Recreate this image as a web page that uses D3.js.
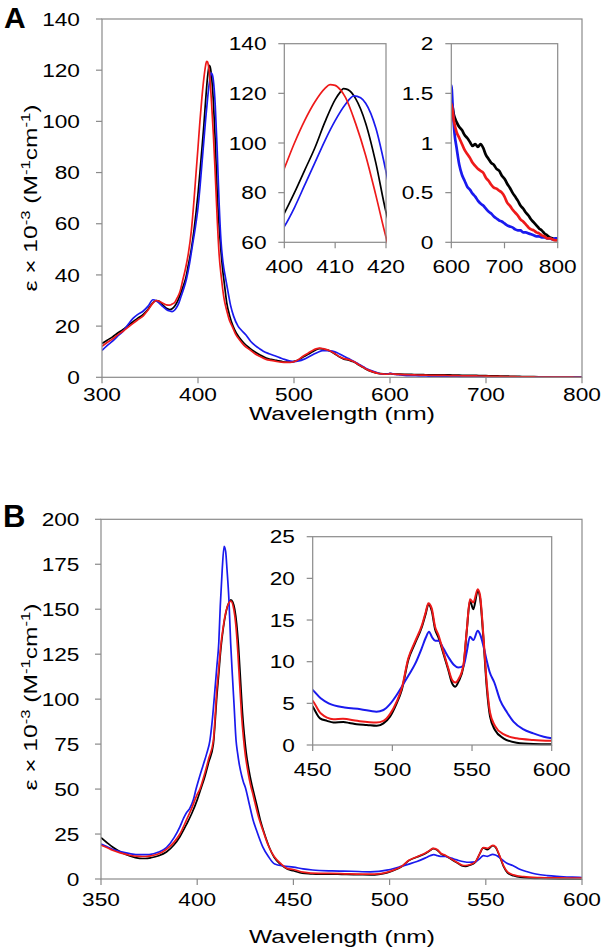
<!DOCTYPE html>
<html><head><meta charset="utf-8">
<script src="https://cdn.jsdelivr.net/npm/d3@7"></script>
<style>body{margin:0;background:#fff}svg{display:block}text{font-family:"Liberation Sans",Arial,sans-serif;fill:#000}</style>
</head><body><svg id="c" width="602" height="951"></svg>
<script>
// ---------------- Panel A data: [wavelength nm, epsilon x 10^-3] ----------------
const aBlack = [[300,13.2],[305,14.4],[311,15.8],[316,17.2],[322,18.7],[327,20.2],[332,21.6],[337,23.0],[343,24.6],[348,26.6],[353,29.2],[356.5,30.0],[360,29.6],[364,28.0],[367,27.0],[370.5,26.5],[373,26.8],[376,28.0],[379,30.0],[381,31.8],[384,35],[387,38.4],[390,44],[393,50],[396,58],[398,64.5],[400,71.7],[402,80],[404,89],[406,98],[408,108.5],[410,117.5],[411,120.5],[411.6,121.9],[412.5,121.5],[414,118],[416,108],[418,92],[420,72.2],[422,59],[424,49],[426,41],[427,38],[430,29],[433,24],[436.5,20],[440,17.2],[443.4,15.4],[448,13.3],[453.8,11.4],[459,10],[464.2,8.8],[471,7.5],[476,7.0],[481.6,6.6],[487,6.2],[492,5.9],[496,5.9],[500,6.2],[505,6.9],[509.4,7.9],[515,9.1],[519.8,10.1],[523,10.8],[526.7,11.2],[530,11.1],[533,10.8],[537.2,10.3],[542,9.3],[547.6,7.9],[552,7.1],[557,6.7],[560,6.3],[563.5,5.8],[567,4.9],[572.2,3.8],[577,2.8],[582.6,2.0],[588,1.5],[593,1.3],[597,1.25],
[600,1.42],[605,1.28],[610,1.21],[615,1.16],[620,1.13],[625,1.08],[630,1.05],[635,1.01],[640,0.97],[645,0.99],[650,0.96],[655,0.99],[660,0.95],[665,0.88],[670,0.84],[675,0.80],[680,0.78],[685,0.74],[690,0.72],[695,0.67],[700,0.64],[705,0.59],[710,0.55],[715,0.50],[720,0.46],[725,0.42],[730,0.37],[735,0.34],[740,0.30],[745,0.27],[750,0.23],[755,0.20],[760,0.17],[765,0.14],[770,0.12],[775,0.09],[780,0.07],[785,0.05],[790,0.04],[795,0.03],[800,0.03]];

const aRed = [[300,12.1],[305,13.5],[311,15.0],[316,16.5],[322,18.0],[327,19.5],[332,21.0],[337,22.4],[343,24.0],[348,26.3],[353,29.0],[356.5,30.0],[360,29.6],[363.5,28.9],[367,28.3],[370.5,28.2],[373,28.6],[375.7,29.2],[378,30.8],[381,33.2],[384.4,38.4],[387,42.5],[390,48.5],[393,57],[396,70],[398,80],[400,89.8],[402,100],[404,109],[406,116.5],[408,122],[409,123.5],[410,123.2],[411,121.5],[412,118.5],[414,108],[416,95],[418,79],[420,62],[422,48],[424.5,38.4],[427,31],[430,26],[433,22],[435.5,20],[439,17],[443.4,14.6],[448,12.5],[453.8,10.8],[459,9.3],[464.2,8.2],[471,7.0],[476,6.6],[481.6,6.2],[487,5.9],[492,5.8],[496,5.8],[500,6.1],[505,7.0],[509.4,8.2],[515,9.5],[519.8,10.6],[523,11.1],[526.7,11.4],[530,11.2],[533,10.9],[537.2,10.4],[542,9.4],[547.6,8.0],[552,7.3],[557,6.9],[560,6.5],[563.5,5.9],[567,5.0],[572.2,3.9],[577,2.9],[582.6,2.1],[588,1.5],[593,1.3],[597,1.2],
[600,1.40],[605,1.22],[610,1.11],[615,1.05],[620,0.99],[625,0.93],[630,0.89],[635,0.85],[640,0.80],[645,0.77],[650,0.74],[655,0.72],[660,0.70],[665,0.65],[670,0.62],[675,0.58],[680,0.55],[685,0.54],[690,0.52],[695,0.50],[700,0.46],[705,0.40],[710,0.37],[715,0.33],[720,0.30],[725,0.27],[730,0.23],[735,0.21],[740,0.18],[745,0.15],[750,0.13],[755,0.12],[760,0.10],[765,0.09],[770,0.07],[775,0.06],[780,0.04],[785,0.04],[790,0.03],[795,0.02],[800,0.02]];

const aBlue = [[300,10.5],[305,12.3],[311,14.1],[316,16.0],[322,18.0],[327,20.5],[332,22.9],[337,24.5],[343,25.9],[348,27.8],[353,30.3],[356.5,29.9],[360,28.8],[363.5,27.6],[367,26.5],[370.5,25.9],[373,25.7],[375.5,26.2],[377.5,27.2],[380,29],[382,31.2],[385,34.5],[388,38.4],[391,44],[394,51],[397,58],[400,66.3],[402,74],[404,83],[406,92],[408,101],[410,109],[412,115.5],[413.7,119],[415,118.2],[416,116],[418,106],[420,88.5],[422,68],[424,53],[426,45],[428.9,38.4],[431,34],[434,28],[437,24],[441.7,20],[445,18.5],[450,16.5],[455,14.0],[460,12.3],[464,11.2],[468,10.2],[474,9.2],[480,8.4],[485,7.7],[490,7.0],[495,6.4],[500,6.1],[505,6.4],[510,7.0],[515,7.9],[520,8.9],[525,9.8],[530,10.4],[535,10.4],[540,10.2],[545,9.6],[547.6,9.1],[552,8.2],[557,7.3],[560,6.7],[563.5,6.0],[567,5.2],[572.2,4.1],[577,3.1],[582.6,2.3],[588,1.6],[593,1.3],[597,1.2],
[600,1.58],[603,1.33],[606,1.10],[610,0.95],[615,0.78],[620,0.68],[625,0.62],[630,0.56],[635,0.53],[640,0.49],[645,0.46],[650,0.42],[655,0.39],[660,0.37],[665,0.34],[670,0.31],[675,0.29],[680,0.26],[685,0.24],[690,0.22],[695,0.21],[700,0.19],[705,0.17],[710,0.16],[715,0.15],[720,0.13],[725,0.12],[730,0.12],[735,0.10],[740,0.10],[745,0.09],[750,0.08],[755,0.07],[760,0.06],[765,0.06],[770,0.05],[775,0.05],[780,0.04],[785,0.04],[790,0.03],[795,0.04],[800,0.04]];

// ---------------- Panel B data ----------------
const bBlack = [[350,23],[353,20.3],[356,17.8],[360,15.2],[365,12.8],[370,11.5],[373,11.4],[376,11.8],[380,12.9],[384,15],[388,19],[391,23.5],[394.5,30.5],[397,36],[400,44],[401.4,48.5],[404,57],[406,65],[408.4,75],[409.3,87],[410.1,100],[411.2,114],[412.2,127],[413.5,139],[415,148.5],[416.5,153.8],[417.5,155.2],[418.5,154],[419.5,150],[420.5,142],[421.5,129],[422.5,111],[423.5,93],[424.5,80],[425.5,70],[426.5,63],[427.5,57],[428.5,52],[429.5,47.5],[431,41],[433,32],[435,25],[437.5,17.5],[440,12],[443.7,7.8],[447,5.4],
[450,4.6],[454.6,3.2],[459,2.9],[463,2.7],[469.2,2.75],[473,2.65],[477.6,2.5],[484,2.4],[490.2,2.3],[494.4,2.6],[498.5,3.4],[502.7,5.0],[505.9,6.6],[510,10.2],[514.2,12.2],[518.4,14.1],[521,15.8],[522.6,16.9],[524.7,16.1],[526.8,13.9],[528.9,12.9],[532,11.0],[535.1,9.0],[537.5,7.4],[539.5,7.0],[541.5,7.6],[544.6,9.4],[546.7,13.7],[548.7,17.3],[550.8,16.3],[553.6,18.5],[555,17.7],[557.1,12.9],[559.2,7.0],[561.3,3.4],[564.4,1.8],[569.7,0.8],[578,0.28],[588.5,0.12],[600,0.08]];

const bRed = [[350,18.8],[353,17.5],[356,16],[360,14.5],[365,13.2],[370,12.6],[373,12.5],[376,12.9],[380,14],[384,16.5],[388,20.5],[391,25],[394.5,33],[397,39],[400,47],[401.4,50],[404,59],[406,67],[408.4,77],[409.3,90],[410.1,104],[411.2,117],[412.2,129],[413.5,140],[415,149],[416.5,153.5],[417.5,154.5],[419,150],[420,142],[421,128],[422,110],[423,92],[424,79],[425,69],[426,62],[427,56],[428,51],[429,47],[430,42.5],[432,34],[434.5,26],[437,18.5],[440,12.5],[443.7,8.3],[447,5.8],
[450,5.3],[455,3.8],[463,3.1],[469,3.15],[478,2.9],[490,2.7],[494.4,2.9],[498.5,3.7],[502.7,5.2],[505.9,6.8],[510,10.4],[514.2,12.4],[518.4,14.3],[521,16.0],[522.6,17.0],[524.7,16.4],[526.8,14.2],[528.9,13.2],[532,11.2],[535.1,9.2],[537.5,7.8],[539.5,7.5],[541.5,7.9],[544.6,9.6],[546.7,13.8],[548.7,17.5],[550.8,17.1],[553.6,18.7],[555,18.0],[557.1,13.2],[559.2,7.5],[561.3,3.9],[564.4,2.3],[569.7,1.3],[578,0.8],[588.5,0.6],[600,0.5]];

const bBlue = [[350,19.5],[353,18],[356,16.5],[360,15.2],[365,14.1],[370,13.5],[375,13.6],[380,15],[384,17.5],[388,23],[391,29],[393,34],[394.5,37],[396,39],[398,44],[399.4,50],[401,56],[403,63],[405,70],[406.6,77],[408,90],[409.2,105],[410.2,118],[411.2,131],[412,152],[413,172],[414,185],[414.8,182],[415.5,172],[416.5,155],[417.4,131],[418.3,113],[419.2,96],[420.2,77],[421,70],[422,63],[423,58],[424,54],[425,51],[427,42],[429,33],[431,26.5],[434,18],[437,12.5],[440.3,8.3],[445,7.2],
[450,6.6],[455,5.6],[460,5.0],[470,4.5],[480,4.3],[490,4.0],[494.4,4.2],[498.5,4.9],[502.7,6.0],[505.9,7.0],[510,8.3],[514.2,9.7],[518.4,11.6],[521,12.9],[523,13.6],[525,12.9],[527,12.5],[529,12.5],[532,11.6],[535,10.6],[538.7,9.6],[541.3,9.3],[544.6,9.5],[546.7,11.2],[548.7,13.0],[550.8,12.6],[553.6,13.7],[555,13.3],[557,12.0],[559,10.3],[561,8.8],[564,7.5],[567.6,5.4],[572,3.9],[576,2.8],[582,1.9],[588.5,1.4],[595,1.0],[600,0.8]];

// ---------------- Tick values ----------------
const aMainXTicks = [300,400,500,600,700,800];
const aMainYTicks = [0,20,40,60,80,100,120,140];
const aIn1XTicks = [400,410,420];
const aIn1YTicks = [60,80,100,120,140];
const aIn2XTicks = [600,700,800];
const aIn2YTicks = [0,0.5,1,1.5,2];
const bMainXTicks = [350,400,450,500,550,600];
const bMainYTicks = [0,25,50,75,100,125,150,175,200];
const bInXTicks = [450,500,550,600];
const bInYTicks = [0,5,10,15,20,25];

const COL = {black:"#000000", red:"#ee1a1a", blue:"#1a1aee"};
const AX = "#8a8a8a";
const FS = 18.6, SX = 1.22, SXT = 1.32;

const svg = d3.select("#c");
svg.append("rect").attr("width",602).attr("height",951).attr("fill","#fff");
let clipN = 0;

function plot(cfg){
  const x = d3.scaleLinear().domain(cfg.xd).range([cfg.x0,cfg.x1]);
  const y = d3.scaleLinear().domain(cfg.yd).range([cfg.y1,cfg.y0]);
  const g = svg.append("g");
  if(cfg.inset) g.append("rect").attr("x",cfg.x0).attr("y",cfg.y0).attr("width",cfg.x1-cfg.x0).attr("height",cfg.y1-cfg.y0).attr("fill","#fff");
  const id = "clip"+(clipN++);
  svg.append("clipPath").attr("id",id).append("rect")
    .attr("x",cfg.x0).attr("y",cfg.y0-1).attr("width",cfg.x1-cfg.x0+1).attr("height",cfg.y1-cfg.y0+2.5);
  const line = d3.line().x(d=>x(d[0])).y(d=>y(d[1])).curve(d3.curveMonotoneX);
  const lg = g.append("g").attr("clip-path",`url(#${id})`);
  cfg.series.forEach(s=>{
    lg.append("path").attr("d",line(s.data)).attr("fill","none")
      .attr("stroke",s.color).attr("stroke-width",cfg.sw).attr("stroke-linejoin","round");
  });
  g.append("rect").attr("x",cfg.x0).attr("y",cfg.y0).attr("width",cfg.x1-cfg.x0).attr("height",cfg.y1-cfg.y0)
    .attr("fill","none").attr("stroke",AX).attr("stroke-width",1.2);
  cfg.xt.forEach(t=>{
    g.append("line").attr("x1",x(t)).attr("x2",x(t)).attr("y1",cfg.y1).attr("y2",cfg.y1+6).attr("stroke",AX).attr("stroke-width",1.2);
    g.append("text").attr("transform",`translate(${x(t)},${cfg.y1+cfg.xoff}) scale(${SX},1)`)
      .attr("text-anchor","middle").attr("font-size",FS).text(t);
  });
  cfg.yt.forEach(t=>{
    g.append("line").attr("x1",cfg.x0-6).attr("x2",cfg.x0).attr("y1",y(t)).attr("y2",y(t)).attr("stroke",AX).attr("stroke-width",1.2);
    g.append("text").attr("transform",`translate(${cfg.x0-cfg.lpad},${y(t)}) scale(${SX},1)`)
      .attr("text-anchor","end").attr("dy","0.36em").attr("font-size",FS).text(t);
  });
  return {x,y};
}

function yTitle(cx, cy){
  const t = svg.append("text").attr("transform",`translate(${cx},${cy}) rotate(-90) scale(${SXT},1)`)
    .attr("text-anchor","middle").attr("font-size",FS);
  t.append("tspan").text("ε × 10");
  t.append("tspan").attr("baseline-shift","super").attr("font-size",FS*0.68).text("-3");
  t.append("tspan").text(" (M");
  t.append("tspan").attr("baseline-shift","super").attr("font-size",FS*0.68).text("-1");
  t.append("tspan").text("cm");
  t.append("tspan").attr("baseline-shift","super").attr("font-size",FS*0.68).text("-1");
  t.append("tspan").text(")");
}
function xTitle(cx, by){
  svg.append("text").attr("transform",`translate(${cx},${by}) scale(${SXT},1)`)
    .attr("text-anchor","middle").attr("font-size",FS).text("Wavelength (nm)");
}

const sA = [{data:aBlack,color:COL.black},{data:aBlue,color:COL.blue},{data:aRed,color:COL.red}];
const sB = [{data:bBlack,color:COL.black},{data:bBlue,color:COL.blue},{data:bRed,color:COL.red}];

// Panel A
plot({x0:102,x1:582,y0:19,y1:377.3,xd:[300,800],yd:[0,140],xt:aMainXTicks,yt:aMainYTicks,series:sA,sw:1.7,lpad:22,xoff:24});
plot({x0:284.3,x1:386,y0:43.7,y1:242.3,xd:[400,420],yd:[60,140],xt:aIn1XTicks,yt:aIn1YTicks,series:sA,sw:1.7,lpad:17.7,inset:true,xoff:30.5});
plot({x0:451.3,x1:557.7,y0:43.7,y1:242.3,xd:[600,800],yd:[0,2],xt:aIn2XTicks,yt:aIn2YTicks,series:sA,sw:2.7,lpad:18,inset:true,xoff:30.5});
yTitle(37,198);
xTitle(342,420);
svg.append("text").attr("x",4).attr("y",28).attr("font-size",30).attr("font-weight","bold").text("A");

// Panel B
plot({x0:101,x1:582,y0:519.3,y1:879,xd:[350,600],yd:[0,200],xt:bMainXTicks,yt:bMainYTicks,series:sB,sw:1.7,lpad:21.5,xoff:27});
plot({x0:312.7,x1:551.7,y0:536.7,y1:745,xd:[450,600],yd:[0,25],xt:bInXTicks,yt:bInYTicks,series:sB,sw:2.0,lpad:17.7,inset:true,xoff:30.5});
yTitle(37,697);
xTitle(342,943);
svg.append("text").attr("x",3).attr("y",527).attr("font-size",31).attr("font-weight","bold").text("B");
</script></body></html>
